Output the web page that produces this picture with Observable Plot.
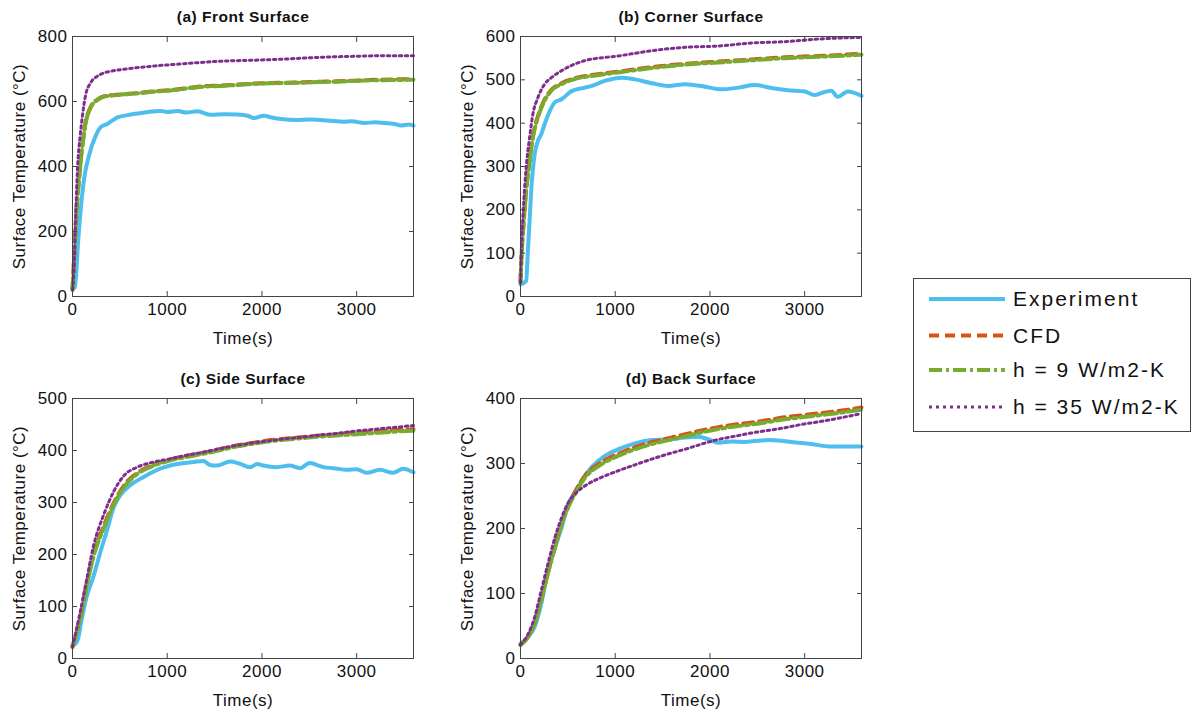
<!DOCTYPE html>
<html><head><meta charset="utf-8">
<script src="https://cdn.jsdelivr.net/npm/d3@7"></script>
<script src="https://cdn.jsdelivr.net/npm/@observablehq/plot@0.6"></script>
<style>
body{margin:0;background:#fff;}
#root{position:relative;width:1191px;height:719px;overflow:hidden;font-family:"Liberation Sans",Arial,sans-serif;}
#legend{position:absolute;left:913px;top:278px;}
</style></head><body><div id="root"></div>
<script>
// ---------- tick labels ----------
const timeTicks = [0, 1000, 2000, 3000];
const frontTicks = [0, 200, 400, 600, 800];
const cornerTicks = [0, 100, 200, 300, 400, 500, 600];
const sideTicks = [0, 100, 200, 300, 400, 500];
const backTicks = [0, 100, 200, 300, 400];
const seriesNames = ["Experiment", "CFD", "h = 9 W/m2-K", "h = 35 W/m2-K"];
const panelTitles = ["(a) Front Surface", "(b) Corner Surface", "(c) Side Surface", "(d) Back Surface"];

// ---------- (a) Front surface: [time s, temperature °C] ----------
const frontExperiment = [[0,25],[25,28],[60,171],[88,272],[123,363],[175,435],[246,495],[298,521],[368,531],[474,551],[580,558],[684,563],[800,568],[930,571],[1000,568],[1110,571],[1200,566],[1320,570],[1460,559],[1600,561],[1740,560],[1850,556],[1915,549],[2020,556],[2100,551],[2200,546],[2370,543],[2500,545],[2620,543],[2750,540],[2860,538],[2950,539],[3080,534],[3200,536],[3290,534],[3400,531],[3465,526],[3550,529],[3600,526]];
const frontCFD = [[0,22],[18,125],[40,255],[70,366],[105,468],[140,538],[193,584],[263,606],[333,616],[440,620],[600,624],[685,626],[850,631],[1035,635],[1200,641],[1390,647],[1560,649],[1740,652],[1900,655],[2090,657],[2270,658],[2440,659],[2620,661],[2790,662],[2960,664],[3140,666],[3370,668],[3600,669]];
const frontH9 = [[0,20],[18,120],[40,250],[70,363],[105,465],[140,536],[193,582],[263,605],[333,615],[440,619],[600,623],[685,625],[850,630],[1035,634],[1200,640],[1390,646],[1560,648],[1740,651],[1900,654],[2090,656],[2270,657],[2440,658],[2620,660],[2790,661],[2960,663],[3140,665],[3370,666],[3600,667]];
const frontH35 = [[0,20],[18,100],[35,262],[53,394],[81,495],[105,556],[140,622],[193,658],[263,678],[333,688],[404,693],[510,698],[860,709],[1210,717],[1565,724],[1915,727],[2265,731],[2620,736],[2965,739],[3315,741],[3600,741]];

// ---------- (b) Corner surface ----------
const cornerExperiment = [[0,28],[60,36],[78,105],[96,175],[113,244],[149,328],[184,359],[220,375],[255,398],[309,428],[362,448],[433,455],[539,474],[681,482],[755,486],[895,498],[1070,505],[1210,501],[1390,492],[1565,486],[1740,490],[1950,484],[2125,478],[2300,482],[2475,488],[2650,481],[2825,476],[3000,473],[3105,465],[3180,470],[3280,475],[3350,461],[3455,473],[3600,463]];
const cornerCFD = [[0,34],[14,108],[35,178],[60,247],[96,316],[131,370],[184,416],[255,455],[326,477],[433,492],[574,504],[752,511],[1030,519],[1380,529],[1735,537],[2085,542],[2440,547],[2790,552],[3140,555],[3600,560]];
const cornerH9 = [[0,32],[14,105],[35,175],[60,244],[96,313],[131,367],[184,413],[255,452],[326,475],[433,490],[574,502],[752,509],[1030,517],[1380,527],[1735,535],[2085,540],[2440,545],[2790,550],[3140,553],[3600,558]];
const cornerH35 = [[0,32],[14,128],[35,221],[60,298],[96,367],[131,421],[184,459],[255,490],[326,505],[433,521],[675,544],[1030,555],[1380,567],[1735,575],[2085,578],[2440,585],[2790,588],[3140,594],[3600,598]];

// ---------- (c) Side surface ----------
const sideExperiment = [[0,25],[40,30],[60,39],[95,74],[150,119],[220,157],[290,202],[365,247],[435,291],[505,314],[610,333],[750,349],[925,365],[1105,374],[1280,378],[1385,380],[1450,372],[1525,371],[1665,379],[1760,375],[1875,368],[1950,374],[2015,371],[2155,368],[2295,371],[2400,366],[2505,376],[2580,372],[2650,368],[2760,366],[2895,363],[3000,364],[3105,357],[3245,363],[3385,357],[3490,365],[3600,358]];
const sideCFD = [[0,23],[85,83],[155,148],[220,199],[335,257],[440,301],[545,333],[685,357],[860,373],[1035,383],[1210,390],[1390,396],[1565,403],[1740,410],[1915,415],[2090,420],[2265,423],[2440,426],[2620,429],[2790,431],[2965,434],[3140,436],[3370,439],[3600,441]];
const sideH9 = [[0,22],[85,80],[155,144],[220,195],[335,253],[440,298],[545,330],[685,355],[860,371],[1035,381],[1210,388],[1390,394],[1565,401],[1740,408],[1915,413],[2090,418],[2265,421],[2440,424],[2620,427],[2790,429],[2965,431],[3140,433],[3370,436],[3600,438]];
const sideH35 = [[0,22],[85,93],[155,157],[220,215],[335,279],[440,323],[545,352],[685,368],[860,378],[1035,384],[1210,391],[1390,397],[1565,404],[1740,410],[1915,415],[2090,419],[2265,423],[2440,426],[2620,430],[2790,433],[2965,437],[3140,440],[3370,444],[3600,448]];

// ---------- (d) Back surface ----------
const backExperiment = [[0,23],[85,34],[150,49],[220,85],[290,136],[365,171],[435,202],[505,238],[575,256],[645,273],[750,294],[895,312],[1035,322],[1210,331],[1390,336],[1565,337],[1740,340],[1880,341],[1985,337],[2090,332],[2230,334],[2370,333],[2500,335],[2620,336],[2750,335],[2860,333],[3070,330],[3280,326],[3455,326],[3600,326]];
const backCFD = [[0,21],[85,35],[150,56],[220,92],[290,133],[365,173],[435,209],[505,235],[575,256],[685,282],[825,299],[1035,315],[1210,325],[1390,333],[1565,339],[1740,345],[1915,351],[2090,356],[2265,360],[2440,363],[2620,367],[2790,371],[2965,374],[3140,377],[3370,381],[3600,386]];
const backH9 = [[0,21],[85,34],[150,54],[220,90],[290,131],[365,171],[435,207],[505,233],[575,253],[685,279],[825,296],[1035,312],[1210,322],[1390,330],[1565,336],[1740,342],[1915,348],[2090,353],[2265,357],[2440,360],[2620,364],[2790,368],[2965,371],[3140,374],[3370,378],[3600,383]];
const backH35 = [[0,21],[85,39],[150,64],[220,105],[290,146],[365,187],[435,217],[505,240],[575,253],[685,266],[860,279],[1035,289],[1210,298],[1390,307],[1565,315],[1740,322],[1915,330],[2090,337],[2265,342],[2440,347],[2620,351],[2790,355],[2965,360],[3140,364],[3370,370],[3600,377]];

// ---------- styles ----------
const seriesColors = ["#4DBEEE", "#D95319", "#77AC30", "#7E2F8E"];
const seriesWidths = [4, 4, 4, 3];
const seriesDash = [null, "10,6", "13,4,3,4", "2.5,3.5"];
const fontStack = '"Liberation Sans", Arial, sans-serif';

const root = document.getElementById("root");

function makePanel(title, yTicks, seriesList, left, top) {
  const lineMarks = seriesList.map((data, i) =>
    Plot.line(data, {
      x: d => d[0], y: d => d[1],
      stroke: seriesColors[i], strokeWidth: seriesWidths[i],
      strokeDasharray: seriesDash[i] || undefined,
      curve: "monotone-x"
    })
  );
  const chart = Plot.plot({
    width: 440, height: 350,
    marginLeft: 72, marginRight: 27, marginTop: 36, marginBottom: 54,
    style: `font-family: ${fontStack}; font-size: 17px; letter-spacing: 0.5px; color: #111; background: transparent; position: absolute; left: ${left}px; top: ${top}px;`,
    x: {domain: [0, 3600]},
    y: {domain: [0, yTicks[yTicks.length - 1]]},
    marks: [
      ...lineMarks,
      Plot.frame({stroke: "#444", strokeWidth: 1}),
      Plot.axisX({ticks: timeTicks, tickSize: -5, tickPadding: 11, stroke: "#444", tickFormat: d => String(d),
        label: "Time(s)", labelAnchor: "center", labelArrow: "none", labelOffset: 47}),
      Plot.axisX({anchor: "top", ticks: timeTicks, tickSize: -5, stroke: "#444", tickFormat: () => "", label: null}),
      Plot.axisY({ticks: yTicks, tickSize: -5, tickPadding: 10, stroke: "#444", tickFormat: d => String(d),
        label: "Surface Temperature (°C)", labelAnchor: "center", labelArrow: "none", labelOffset: 60}),
      Plot.axisY({anchor: "right", ticks: yTicks, tickSize: -5, stroke: "#444", tickFormat: () => "", label: null}),
      Plot.text([title], {frameAnchor: "top", dy: -19, lineAnchor: "middle", fontWeight: "bold", fontSize: 15.5, fontFamily: fontStack})
    ]
  });
  root.appendChild(chart);
}

makePanel(panelTitles[0], frontTicks, [frontExperiment, frontCFD, frontH9, frontH35], 0, 0);
makePanel(panelTitles[1], cornerTicks, [cornerExperiment, cornerCFD, cornerH9, cornerH35], 448, 0);
makePanel(panelTitles[2], sideTicks, [sideExperiment, sideCFD, sideH9, sideH35], 0, 362);
makePanel(panelTitles[3], backTicks, [backExperiment, backCFD, backH9, backH35], 448, 362);

// ---------- legend ----------
const lw = 277, lh = 153;
const leg = d3.select(root).append("svg").attr("id", "legend").attr("width", lw + 1).attr("height", lh + 1);
leg.append("rect").attr("x", 0.5).attr("y", 0.5).attr("width", lw).attr("height", lh)
  .attr("fill", "white").attr("stroke", "#444").attr("stroke-width", 1);
const rowY = [21, 57.5, 92, 129];
const legendDash = [null, "10,6", "13,4,3,4", "3,4"];
seriesNames.forEach((name, i) => {
  leg.append("line").attr("x1", 16).attr("x2", 92).attr("y1", rowY[i]).attr("y2", rowY[i])
    .attr("stroke", seriesColors[i]).attr("stroke-width", seriesWidths[i])
    .attr("stroke-dasharray", legendDash[i]);
  leg.append("text").attr("x", 100).attr("y", rowY[i]).attr("dy", "0.35em")
    .attr("font-family", fontStack).attr("font-size", 21)
    .attr("letter-spacing", "2px").attr("fill", "#111").text(name);
});
</script>
</body></html>
